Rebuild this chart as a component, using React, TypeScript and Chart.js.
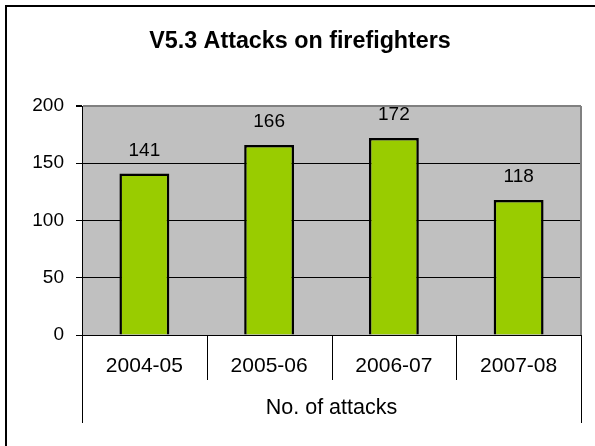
import React, { useEffect, useRef } from "react";
import { Chart, registerables } from "chart.js";

Chart.register(...registerables);

const titleText = "V5.3 Attacks on firefighters";
const categories = ["2004-05", "2005-06", "2006-07", "2007-08"];
const attacks = [141, 166, 172, 118];
const groupLabel = "No. of attacks";
const yMin = 0;
const yMax = 200;
const yStep = 50;

const FONT = "'Liberation Sans', Arial, Helvetica, sans-serif";

export default function App() {
  const ref = useRef<HTMLCanvasElement | null>(null);

  useEffect(() => {
    const canvas = ref.current;
    if (!canvas) return;

    const decor = {
      id: "decor",
      beforeDraw(chart: any) {
        const { ctx, chartArea: a } = chart;
        ctx.save();
        ctx.fillStyle = "#ffffff";
        ctx.fillRect(0, 0, chart.width, chart.height);
        ctx.fillStyle = "#C0C0C0";
        ctx.fillRect(a.left, a.top, a.right - a.left, a.bottom - a.top);
        // outer frame (left and top visible)
        ctx.strokeStyle = "#000";
        ctx.lineWidth = 2;
        ctx.beginPath();
        ctx.moveTo(6, chart.height);
        ctx.lineTo(6, 6);
        ctx.lineTo(chart.width, 6);
        ctx.stroke();
        ctx.restore();
      },
      afterDatasetsDraw(chart: any) {
        const { ctx } = chart;
        const meta = chart.getDatasetMeta(0);
        const data = chart.data.datasets[0].data as number[];
        ctx.save();
        ctx.fillStyle = "#000";
        ctx.font = `19px ${FONT}`;
        ctx.textAlign = "center";
        ctx.textBaseline = "middle";
        meta.data.forEach((el: any, i: number) => {
          ctx.fillText(String(data[i]), el.x, el.y - 23);
        });
        ctx.restore();
      },
      afterDraw(chart: any) {
        const { ctx, chartArea: a } = chart;
        const xs = chart.scales.x;
        const n = chart.data.labels.length;
        ctx.save();
        // right plot border
        ctx.strokeStyle = "#808080";
        ctx.lineWidth = 2;
        ctx.beginPath();
        ctx.moveTo(a.right, a.top);
        ctx.lineTo(a.right, a.bottom);
        ctx.stroke();
        // category dividers
        ctx.strokeStyle = "#000";
        ctx.lineWidth = 1;
        const w = (xs.right - xs.left) / n;
        for (let i = 0; i <= n; i++) {
          const x = Math.round(xs.left + i * w) + 0.5;
          const len = i === 0 || i === n ? 88 : 45;
          ctx.beginPath();
          ctx.moveTo(x, a.bottom);
          ctx.lineTo(x, a.bottom + len);
          ctx.stroke();
        }
        // group label
        ctx.fillStyle = "#000";
        ctx.font = `21.5px ${FONT}`;
        ctx.textAlign = "center";
        ctx.textBaseline = "middle";
        ctx.fillText(groupLabel, (xs.left + xs.right) / 2, a.bottom + 73);
        // title
        ctx.font = `bold 23.3px ${FONT}`;
        ctx.fillText(titleText, 300, 42);
        ctx.restore();
      },
    };

    const chart = new Chart(canvas, {
      type: "bar",
      data: {
        labels: categories,
        datasets: [
          {
            label: groupLabel,
            data: attacks,
            backgroundColor: "#99CC00",
            borderColor: "#000000",
            borderWidth: 2.5,
            barPercentage: 0.4,
            categoryPercentage: 1,
          },
        ],
      },
      options: {
        responsive: false,
        animation: false,
        devicePixelRatio: 1,
        layout: { padding: { left: 0, top: 106, right: 14, bottom: 0 } },
        plugins: {
          legend: { display: false },
          title: { display: false },
          tooltip: { enabled: false },
        },
        scales: {
          x: {
            type: "category",
            offset: true,
            grid: { display: false },
            border: { display: true, color: "#000", width: 1 },
            ticks: {
              color: "#000",
              font: { family: FONT, size: 21 },
              padding: 11,
              maxRotation: 0,
              autoSkip: false,
            },
            afterFit(scale: any) {
              scale.height = 111;
            },
          },
          y: {
            min: yMin,
            max: yMax,
            ticks: {
              stepSize: yStep,
              color: "#000",
              font: { family: FONT, size: 19 },
              padding: 12,
            },
            grid: {
              color: (c: any) => (c.tick && c.tick.value === yMax ? "#808080" : "#000"),
              lineWidth: (c: any) => (c.tick && c.tick.value === yMax ? 2 : 1),
              tickColor: "#000",
              tickLength: 6,
              drawOnChartArea: true,
            },
            border: { display: true, color: "#000", width: 1 },
            afterFit(scale: any) {
              scale.width = 82;
            },
          },
        },
      },
      plugins: [decor],
    });

    return () => chart.destroy();
  }, []);

  return (
    <div style={{ position: "absolute", left: 0, top: 0, width: 595, height: 446 }}>
      <canvas ref={ref} width={595} height={446} style={{ display: "block", width: 595, height: 446 }} />
    </div>
  );
}
